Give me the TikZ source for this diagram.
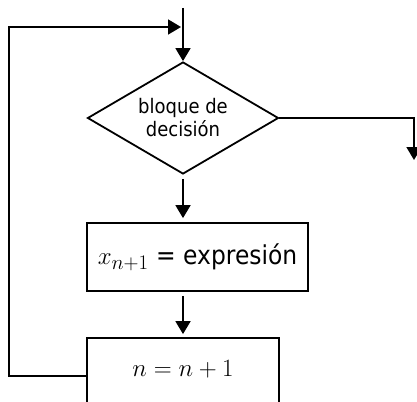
\documentclass[tikz,border=0pt]{standalone}
\usepackage{fontspec}
\usetikzlibrary{shapes.geometric}
\usetikzlibrary{arrows.meta}
\newfontfamily\flowfont{DejaVu Sans}[FakeStretch=0.9]

\begin{document}
\begin{tikzpicture}[x=1pt,y=-1pt,line width=1.8pt,
  arr/.style={-{Triangle[length=13pt,width=15pt]}},
  decide/.style={draw,diamond,aspect=1.7,inner sep=0pt,minimum width=191pt,
    minimum height=112pt,align=center,font=\flowfont\fontsize{20}{23}\selectfont},
  block/.style={draw,rectangle,inner xsep=0pt}]
  \useasboundingbox (0,0) rectangle (417,401);
  \node[decide] (dec) at (183,118) {bloque de\\decisión};
  \node[block,minimum width=221pt,minimum height=68pt] (calc) at (197.5,257)
    {\fontsize{24.88}{28}\selectfont$x_{n+1}$ {\flowfont\fontsize{26}{30}\selectfont= expresión}};
  \node[block,minimum width=192pt,text height=32pt,text depth=32pt,inner ysep=6pt] (inc) at (183,376)
    {\fontsize{24.88}{28}\selectfont$n = n + 1$};
  \coordinate (top) at (183,8);
  \coordinate (loop) at (9,27);
  \coordinate (out) at (414,160);
  \path[arr]
    (top) edge (dec)
    (dec.south) edge[shorten <=4pt,shorten >=4pt] (dec.south |- calc.north)
    (calc.south -| inc) edge[shorten <=4pt,shorten >=3pt] (inc.north);
  \draw[arr] (inc.west) -| (loop) -- ([xshift=-2pt]loop -| dec.north);
  \draw[arr] (dec.east) -| (out);
\end{tikzpicture}
\end{document}
